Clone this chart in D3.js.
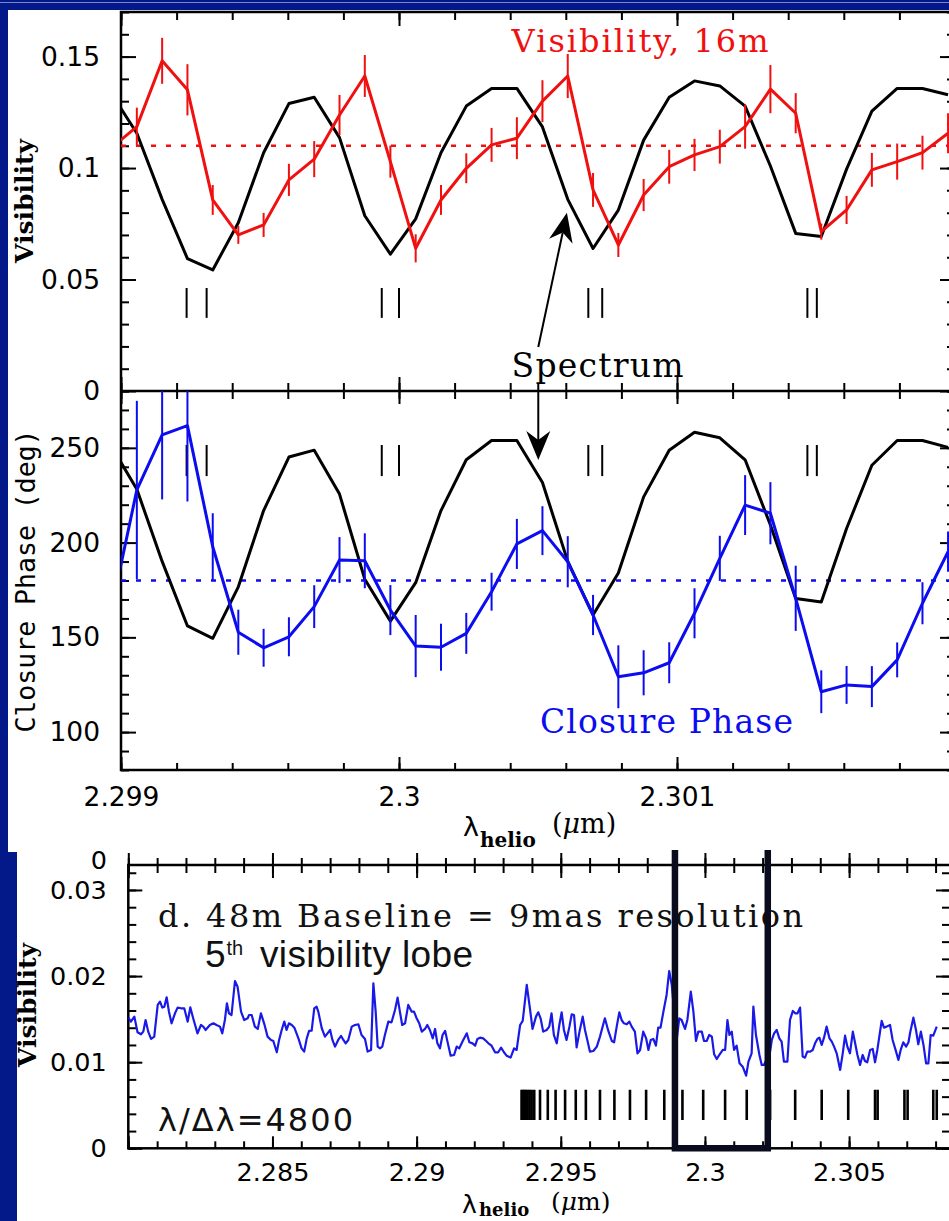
<!DOCTYPE html>
<html>
<head>
<meta charset="utf-8">
<script src="https://cdn.jsdelivr.net/npm/d3@7"></script>
<style>
  body { margin: 0; background: #031889; }
  svg { display: block; }
</style>
</head>
<body>
<script>
// ---- data: 16m baseline, spectral channels (um) ----
const chanLambda = [2.298965, 2.299057, 2.299148, 2.299239, 2.299330, 2.299422, 2.299513, 2.299604, 2.299695,
  2.299786, 2.299877, 2.299969, 2.300060, 2.300151, 2.300242, 2.300333, 2.300424, 2.300516, 2.300607, 2.300698,
  2.300789, 2.300880, 2.300972, 2.301063, 2.301154, 2.301245, 2.301336, 2.301427, 2.301519, 2.301610, 2.301701,
  2.301792, 2.301883, 2.301975];

const visibility16m = [0.1090, 0.1186, 0.1481, 0.1351, 0.0857, 0.0700, 0.0745, 0.0947, 0.1040, 0.1238, 0.1413,
  0.1029, 0.0640, 0.0857, 0.0999, 0.1104, 0.1134, 0.1300, 0.1413, 0.0902, 0.0655, 0.0879, 0.1006, 0.1059, 0.1096,
  0.1186, 0.1354, 0.1246, 0.0715, 0.0812, 0.0992, 0.1029, 0.1069, 0.1156];
const visibilityErr = [0.0080, 0.0085, 0.0103, 0.0115, 0.0067, 0.0040, 0.0054, 0.0072, 0.0081, 0.0090, 0.0094,
  0.0072, 0.0063, 0.0067, 0.0067, 0.0076, 0.0094, 0.0094, 0.0099, 0.0076, 0.0054, 0.0072, 0.0076, 0.0072, 0.0076,
  0.0099, 0.0108, 0.0090, 0.0036, 0.0063, 0.0076, 0.0081, 0.0076, 0.0090];

const closurePhase = [164.2, 227.8, 256.8, 261.7, 197.8, 152.7, 144.5, 150.3, 166.2, 190.8, 190.4, 164.4, 145.4,
  144.8, 152.1, 174.1, 199.3, 206.3, 189.9, 161.8, 129.2, 131.3, 136.6, 162.7, 191.7, 219.8, 215.5, 170.6, 121.3,
  124.9, 124.0, 138.1, 168.0, 195.2];
const closurePhaseErr = [15, 47, 34, 40, 17.7, 11.9, 10, 10.3, 11.3, 12.1, 14.5, 13.2, 16.4, 12.4, 10.8, 10, 13.2,
  12.9, 13.5, 10.6, 16.6, 11.9, 10.8, 13.2, 11.9, 15.8, 16.4, 17.2, 11.3, 10, 10.8, 9.2, 11.1, 10.6];

// normalised flux of the spectrum (continuum ~ 1)
const spectrumFlux = [0.980, 0.917, 0.812, 0.718, 0.700, 0.775, 0.886, 0.964, 0.974, 0.910, 0.786, 0.725, 0.781,
  0.886, 0.960, 0.988, 0.988, 0.927, 0.812, 0.734, 0.795, 0.906, 0.974, 1.000, 0.992, 0.960, 0.865, 0.758, 0.753,
  0.860, 0.952, 0.988, 0.988, 0.978];

const visMean = 0.11;
const phaseMean = 180;
const lineMarksTop = [2.299236, 2.299308, 2.299938, 2.300000, 2.300681, 2.300731, 2.301469, 2.301503];

// ---- data: 48m baseline, 5th lobe ----
const lobe5Spectrum = [
  [2.28000, .01517], [2.28009, .01471], [2.28021, .01529], [2.28032, .01347], [2.28044, .01324], [2.28052, .01355],
  [2.28060, .01490], [2.28069, .01355], [2.28079, .01270], [2.28090, .01297], [2.28102, .01665], [2.28110, .01703],
  [2.28118, .01634], [2.28125, .01645], [2.28133, .01754], [2.28141, .01587], [2.28150, .01452], [2.28162, .01568],
  [2.28171, .01634], [2.28183, .01626], [2.28194, .01626], [2.28206, .01471], [2.28215, .01637], [2.28225, .01510],
  [2.28240, .01335], [2.28252, .01432], [2.28260, .01413], [2.28268, .01374], [2.28283, .01432], [2.28295, .01452],
  [2.28306, .01432], [2.28318, .01413], [2.28326, .01335], [2.28335, .01490], [2.28342, .01684], [2.28349, .01568],
  [2.28358, .01548], [2.28370, .01943], [2.28379, .01877], [2.28391, .01587], [2.28402, .01490], [2.28414, .01510],
  [2.28419, .01548], [2.28428, .01548], [2.28439, .01413], [2.28449, .01386], [2.28460, .01568], [2.28472, .01440],
  [2.28483, .01297], [2.28495, .01258], [2.28503, .01246], [2.28515, .01115], [2.28523, .01258], [2.28532, .01374],
  [2.28541, .01471], [2.28549, .01374], [2.28557, .01452], [2.28567, .01432], [2.28576, .01401], [2.28590, .01277],
  [2.28601, .01161], [2.28610, .01123], [2.28619, .01277], [2.28627, .01363], [2.28636, .01366], [2.28645, .01626],
  [2.28653, .01645], [2.28659, .01587], [2.28671, .01394], [2.28682, .01297], [2.28691, .01335], [2.28700, .01374],
  [2.28708, .01258], [2.28717, .01181], [2.28728, .01258], [2.28738, .01305], [2.28746, .01258], [2.28754, .01219],
  [2.28763, .01258], [2.28775, .01413], [2.28786, .01432], [2.28798, .01440], [2.28809, .01316], [2.28821, .01270],
  [2.28830, .01123], [2.28842, .01142], [2.28850, .01916], [2.28858, .01587], [2.28865, .01181], [2.28873, .01161],
  [2.28881, .01181], [2.28890, .01316], [2.28902, .01471], [2.28913, .01463], [2.28925, .01606], [2.28934, .01750],
  [2.28942, .01587], [2.28950, .01432], [2.28960, .01452], [2.28971, .01665], [2.28983, .01587], [2.28991, .01587],
  [2.29000, .01510], [2.29009, .01452], [2.29018, .01355], [2.29029, .01386], [2.29037, .01432], [2.29046, .01374],
  [2.29056, .01277], [2.29064, .01386], [2.29072, .01219], [2.29081, .01161], [2.29090, .01316], [2.29099, .01363],
  [2.29107, .01239], [2.29118, .01076], [2.29130, .01084], [2.29139, .01181], [2.29148, .01161], [2.29160, .01246],
  [2.29174, .01335], [2.29183, .01231], [2.29194, .01219], [2.29203, .01192], [2.29211, .01270], [2.29220, .01285],
  [2.29231, .01277], [2.29241, .01246], [2.29249, .01219], [2.29260, .01192], [2.29272, .01115], [2.29283, .01115],
  [2.29293, .01169], [2.29303, .01115], [2.29312, .01076], [2.29326, .01053], [2.29338, .01161], [2.29347, .01142],
  [2.29359, .01432], [2.29368, .01479], [2.29382, .01897], [2.29393, .01626], [2.29402, .01386], [2.29414, .01529],
  [2.29422, .01579], [2.29430, .01510], [2.29439, .01355], [2.29451, .01374], [2.29460, .01413], [2.29468, .01568],
  [2.29476, .01316], [2.29486, .01219], [2.29495, .01432], [2.29503, .01579], [2.29511, .01374], [2.29520, .01258],
  [2.29530, .01413], [2.29538, .01556], [2.29546, .01548], [2.29555, .01173], [2.29565, .01355], [2.29576, .01529],
  [2.29584, .01374], [2.29592, .01258], [2.29601, .01123], [2.29613, .01130], [2.29625, .01181], [2.29636, .01297],
  [2.29653, .01510], [2.29665, .01363], [2.29677, .01246], [2.29685, .01231], [2.29694, .01413], [2.29703, .01579],
  [2.29711, .01490], [2.29719, .01452], [2.29729, .01440], [2.29738, .01471], [2.29746, .01413], [2.29757, .01355],
  [2.29766, .01103], [2.29775, .01142], [2.29786, .01355], [2.29796, .01277], [2.29804, .01142], [2.29812, .01258],
  [2.29821, .01270], [2.29830, .01192], [2.29838, .01401], [2.29846, .01401], [2.29856, .01587], [2.29867, .01781],
  [2.29876, .02059], [2.29885, .01897], [2.29902, .01258], [2.29911, .01510], [2.29919, .01490], [2.29931, .01386],
  [2.29939, .01490], [2.29951, .01819], [2.29960, .01587], [2.29969, .01246], [2.29977, .01355], [2.29989, .01355],
  [2.29997, .01246], [2.30006, .01246], [2.30015, .01316], [2.30024, .01297], [2.30032, .01092], [2.30041, .01037],
  [2.30050, .01084], [2.30062, .01142], [2.30070, .01142], [2.30078, .01490], [2.30085, .01316], [2.30093, .01355],
  [2.30101, .01142], [2.30110, .01192], [2.30120, .00987], [2.30131, .00948], [2.30143, .00844], [2.30151, .01006],
  [2.30162, .01103], [2.30168, .01645], [2.30177, .01316], [2.30189, .01084], [2.30197, .00968], [2.30205, .00968],
  [2.30226, .01123], [2.30232, .01258], [2.30240, .01335], [2.30249, .01374], [2.30258, .01277], [2.30266, .01239],
  [2.30274, .01006], [2.30286, .01006], [2.30295, .01490], [2.30305, .01595], [2.30313, .01568], [2.30321, .01568],
  [2.30330, .01634], [2.30339, .01065], [2.30347, .01053], [2.30355, .01123], [2.30365, .01123], [2.30374, .01142],
  [2.30382, .01219], [2.30390, .01270], [2.30397, .01285], [2.30405, .01200], [2.30413, .01285], [2.30422, .01413],
  [2.30432, .01277], [2.30440, .01239], [2.30448, .01181], [2.30457, .01103], [2.30469, .00910], [2.30478, .01103],
  [2.30486, .01308], [2.30494, .01181], [2.30503, .01103], [2.30513, .01355], [2.30521, .01219], [2.30529, .01084],
  [2.30538, .00968], [2.30547, .01084], [2.30555, .01014], [2.30563, .00999], [2.30573, .01142], [2.30582, .01154],
  [2.30590, .00999], [2.30598, .01142], [2.30607, .01347], [2.30613, .01479], [2.30621, .01401], [2.30630, .01413],
  [2.30642, .01432], [2.30651, .01258], [2.30663, .01123], [2.30671, .01026], [2.30679, .01142], [2.30688, .01231],
  [2.30698, .01181], [2.30706, .01231], [2.30712, .01347], [2.30723, .01517], [2.30732, .01374], [2.30740, .01208],
  [2.30749, .01355], [2.30758, .01200], [2.30767, .00987], [2.30775, .00987], [2.30783, .01316], [2.30792, .01308],
  [2.30804, .01413]
];

const lineMarksBottom = [2.29364, 2.29369, 2.29374, 2.29379, 2.29385, 2.29392, 2.29399, 2.29408, 2.29428, 2.29455,
  2.29482, 2.29515, 2.29552, 2.29587, 2.29636, 2.29686, 2.29740, 2.29796, 2.29859, 2.29922, 2.29994, 2.30070,
  2.30145, 2.30226, 2.30313, 2.30405, 2.30497, 2.30590, 2.30599, 2.30692, 2.30703, 2.30792, 2.30804];
const zoomWindow = [2.29896, 2.30218];

// ---- tick labels ----
const visTicks = [0, 0.05, 0.1, 0.15], visTickLabels = ['0', '0.05', '0.1', '0.15'];
const phaseTicks = [100, 150, 200, 250], phaseTickLabels = ['100', '150', '200', '250'];
const topXTicks = [2.299, 2.300, 2.301, 2.302], topXTickLabels = ['2.299', '2.3', '2.301', ''];
const botYTicks = [0, 0.01, 0.02, 0.03], botYTickLabels = ['0', '0.01', '0.02', '0.03'];
const botXTicks = [2.28, 2.285, 2.29, 2.295, 2.3, 2.305], botXTickLabels = ['', '2.285', '2.29', '2.295', '2.3', '2.305'];

const RED = '#f01010', BLUE = '#0c0cf0', NAVY = '#031889';

const svg = d3.select('body').append('svg').attr('width', 949).attr('height', 1221);

// backgrounds (two pasted figures on a navy slide)
svg.append('rect').attr('width', 949).attr('height', 1221).attr('fill', NAVY);
svg.append('rect').attr('x', 0).attr('y', 2).attr('width', 949).attr('height', 1).attr('fill', '#7d86c4');
svg.append('rect').attr('x', 8).attr('y', 10).attr('width', 941).attr('height', 842).attr('fill', '#fff');
svg.append('rect').attr('x', 17).attr('y', 852).attr('width', 932).attr('height', 369).attr('fill', '#fff');

// scales
const xTop = d3.scaleLinear().domain([2.299, 2.302]).range([121, 955]);
const yVis = d3.scaleLinear().domain([0, 0.17]).range([391, 12]);
const yPh = d3.scaleLinear().domain([80, 280]).range([770, 391]);
const specToVis = d3.scaleLinear().domain([0.7, 1.0]).range([0.0543, 0.1391]);
const specToPh = d3.scaleLinear().domain([0.7, 1.0]).range([149.5, 258.2]);
const xBot = d3.scaleLinear().domain([2.28, 2.3085]).range([128.3, 950]);
const yBot = d3.scaleLinear().domain([0, 0.0329]).range([1148.3, 865]);

function drawAxis(gen, x, y, values, size, pad, labels, fs) {
  const g = svg.append('g').attr('transform', `translate(${x},${y})`)
    .call(gen.tickValues(values).tickSize(size).tickPadding(pad || 3)
      .tickFormat(labels ? (d, i) => labels[i] : () => ''));
  g.select('.domain').remove();
  g.selectAll('line').attr('stroke', '#000').attr('stroke-width', 2);
  g.selectAll('text').attr('fill', '#000');
  g.attr('font-family', 'DejaVu Sans').attr('font-size', fs || 26.5);
  return g;
}

const topXMinor = d3.range(0, 16).map(i => 2.299 + i * 0.0002);
const visMinor = d3.range(0, 18).map(i => i * 0.01);
const phMinor = d3.range(0, 21).map(i => 80 + i * 10);
const botXMinor = d3.range(0, 29).map(i => 2.28 + i * 0.001);
const botYMinor = d3.range(0, 17).map(i => i * 0.002);

// ---- visibility panel axes ----
drawAxis(d3.axisLeft(yVis), 121, 0, visMinor, -8);
drawAxis(d3.axisLeft(yVis), 121, 0, visTicks, -15, 21, visTickLabels);
drawAxis(d3.axisRight(yVis), 955, 0, visMinor, -8);
drawAxis(d3.axisRight(yVis), 955, 0, visTicks, -15);
drawAxis(d3.axisTop(xTop), 0, 12, topXMinor, -8);
drawAxis(d3.axisTop(xTop), 0, 12, topXTicks, -14);
drawAxis(d3.axisBottom(xTop), 0, 391, topXMinor, -8);
drawAxis(d3.axisBottom(xTop), 0, 391, topXTicks, -14);

// ---- phase panel axes ----
drawAxis(d3.axisLeft(yPh), 121, 0, phMinor, -8);
drawAxis(d3.axisLeft(yPh), 121, 0, phaseTicks, -15, 21, phaseTickLabels);
drawAxis(d3.axisRight(yPh), 955, 0, phMinor, -8);
drawAxis(d3.axisRight(yPh), 955, 0, phaseTicks, -15);
drawAxis(d3.axisTop(xTop), 0, 391, topXMinor, -8);
drawAxis(d3.axisTop(xTop), 0, 391, topXTicks, -13);
drawAxis(d3.axisBottom(xTop), 0, 770, topXMinor, -7);
drawAxis(d3.axisBottom(xTop), 0, 770, topXTicks, -13, 17, topXTickLabels);

svg.append('rect').attr('x', 121).attr('y', 12).attr('width', 834).attr('height', 758)
  .attr('fill', 'none').attr('stroke', '#000').attr('stroke-width', 2.5);
svg.append('line').attr('x1', 121).attr('x2', 955).attr('y1', 391).attr('y2', 391)
  .attr('stroke', '#000').attr('stroke-width', 2.5);

const defs = svg.append('defs');
defs.append('clipPath').attr('id', 'clipVis').append('rect')
  .attr('x', 121).attr('y', 12).attr('width', 834).attr('height', 379);
defs.append('clipPath').attr('id', 'clipPh').append('rect')
  .attr('x', 121).attr('y', 391).attr('width', 834).attr('height', 379);
defs.append('clipPath').attr('id', 'clipBot').append('rect')
  .attr('x', 128.3).attr('y', 865).attr('width', 822).attr('height', 283.3);

const idx = d3.range(chanLambda.length);

// ---- visibility panel content ----
const gVis = svg.append('g').attr('clip-path', 'url(#clipVis)');
gVis.append('line').attr('x1', 121).attr('x2', 955).attr('y1', yVis(visMean)).attr('y2', yVis(visMean))
  .attr('stroke', RED).attr('stroke-width', 2.5).attr('stroke-dasharray', '5,10');
gVis.selectAll('.mk').data(lineMarksTop).enter().append('line')
  .attr('x1', d => xTop(d)).attr('x2', d => xTop(d))
  .attr('y1', yVis(0.0462)).attr('y2', yVis(0.0328)).attr('stroke', '#000').attr('stroke-width', 2);
gVis.append('path').datum(idx)
  .attr('d', d3.line().x(i => xTop(chanLambda[i])).y(i => yVis(specToVis(spectrumFlux[i]))))
  .attr('fill', 'none').attr('stroke', '#000').attr('stroke-width', 3).attr('stroke-linejoin', 'round');
gVis.selectAll('.ev').data(idx).enter().append('line')
  .attr('x1', i => xTop(chanLambda[i])).attr('x2', i => xTop(chanLambda[i]))
  .attr('y1', i => yVis(visibility16m[i] - visibilityErr[i]))
  .attr('y2', i => yVis(visibility16m[i] + visibilityErr[i]))
  .attr('stroke', RED).attr('stroke-width', 2);
gVis.append('path').datum(idx)
  .attr('d', d3.line().x(i => xTop(chanLambda[i])).y(i => yVis(visibility16m[i])))
  .attr('fill', 'none').attr('stroke', RED).attr('stroke-width', 3).attr('stroke-linejoin', 'round');

// ---- phase panel content ----
const gPh = svg.append('g').attr('clip-path', 'url(#clipPh)');
gPh.append('line').attr('x1', 121).attr('x2', 955).attr('y1', yPh(phaseMean)).attr('y2', yPh(phaseMean))
  .attr('stroke', BLUE).attr('stroke-width', 2.5).attr('stroke-dasharray', '5,10');
gPh.selectAll('.mk').data(lineMarksTop).enter().append('line')
  .attr('x1', d => xTop(d)).attr('x2', d => xTop(d))
  .attr('y1', yPh(251.5)).attr('y2', yPh(235.1)).attr('stroke', '#000').attr('stroke-width', 2);
gPh.append('path').datum(idx)
  .attr('d', d3.line().x(i => xTop(chanLambda[i])).y(i => yPh(specToPh(spectrumFlux[i]))))
  .attr('fill', 'none').attr('stroke', '#000').attr('stroke-width', 3).attr('stroke-linejoin', 'round');
gPh.selectAll('.ep').data(idx).enter().append('line')
  .attr('x1', i => xTop(chanLambda[i])).attr('x2', i => xTop(chanLambda[i]))
  .attr('y1', i => yPh(closurePhase[i] - closurePhaseErr[i]))
  .attr('y2', i => yPh(closurePhase[i] + closurePhaseErr[i]))
  .attr('stroke', BLUE).attr('stroke-width', 2);
gPh.append('path').datum(idx)
  .attr('d', d3.line().x(i => xTop(chanLambda[i])).y(i => yPh(closurePhase[i])))
  .attr('fill', 'none').attr('stroke', BLUE).attr('stroke-width', 3).attr('stroke-linejoin', 'round');

// ---- annotations, top figure ----
function stretchText(x, y, str, size, len, color, family) {
  return svg.append('text').attr('x', x).attr('y', y).text(str)
    .attr('font-family', family || 'DejaVu Serif').attr('font-size', size)
    .attr('textLength', len).attr('lengthAdjust', 'spacing').attr('fill', color || '#000');
}
stretchText(xTop(2.300405), yVis(0.1521), 'Visibility, 16m', 32, 257, RED);
stretchText(xTop(2.300405), yVis(0.0064), 'Spectrum', 33, 172);
stretchText(xTop(2.300507), yPh(99.5), 'Closure Phase', 33, 253, BLUE);

function arrow(x1, y1, x2, y2) {
  const dx = x2 - x1, dy = y2 - y1, len = Math.hypot(dx, dy);
  const ux = dx / len, uy = dy / len, nx = -uy, ny = ux;
  const L = 29, Wd = 12, N = 20;
  svg.append('line').attr('x1', x1).attr('y1', y1).attr('x2', x2 - ux * N).attr('y2', y2 - uy * N)
    .attr('stroke', '#000').attr('stroke-width', 2);
  const pts = [[x2, y2], [x2 - ux * L + nx * Wd, y2 - uy * L + ny * Wd], [x2 - ux * N, y2 - uy * N],
    [x2 - ux * L - nx * Wd, y2 - uy * L - ny * Wd]];
  svg.append('polygon').attr('points', pts.map(p => p.join(',')).join(' ')).attr('fill', '#000');
}
arrow(xTop(2.300501), yVis(0.0197), xTop(2.300604), yVis(0.0799));
arrow(xTop(2.300501), yVis(0.0036), xTop(2.300501), yPh(243.6));

// axis titles
function yTitle(x, y, str, family, size, weight) {
  svg.append('text').attr('transform', `translate(${x},${y}) rotate(-90)`)
    .attr('text-anchor', 'middle').attr('font-family', family).attr('font-size', size)
    .attr('font-weight', weight || 'normal').attr('fill', '#000').text(str);
}
yTitle(33, 201, 'Visibility', 'DejaVu Serif', 25, 'bold');
yTitle(35, 581, 'Closure Phase (deg)', 'DejaVu Sans Mono', 26.5);
yTitle(36, 1005, 'Visibility', 'DejaVu Serif', 25, 'bold');

function xTitle(x, base, subDrop, size, subSize) {
  svg.append('text').attr('x', x).attr('y', base + 3).attr('font-family', 'DejaVu Sans')
    .attr('font-size', size).text('λ');
  svg.append('text').attr('x', x + 17).attr('y', base + subDrop).attr('font-family', 'DejaVu Serif')
    .attr('font-size', subSize).attr('font-weight', 'bold').text('helio');
  const t = svg.append('text').attr('x', x + 89).attr('y', base).attr('font-family', 'DejaVu Serif')
    .attr('font-size', size);
  t.append('tspan').text('(');
  t.append('tspan').attr('font-style', 'italic').text('μ');
  t.append('tspan').text('m)');
}
xTitle(463, 833, 14, 27, 20);

// ---- bottom figure: 48m baseline ----
drawAxis(d3.axisLeft(yBot), 128.3, 0, botYMinor, -8);
drawAxis(d3.axisLeft(yBot), 128.3, 0, botYTicks, -14, 21.6, botYTickLabels, 25.5);
drawAxis(d3.axisRight(yBot), 950, 0, botYMinor, -8);
drawAxis(d3.axisRight(yBot), 950, 0, botYTicks, -14);
drawAxis(d3.axisTop(xBot), 0, 865, botXMinor, 7);
drawAxis(d3.axisTop(xBot), 0, 865, botXMinor, -8);
drawAxis(d3.axisTop(xBot), 0, 865, botXTicks, 12);
drawAxis(d3.axisTop(xBot), 0, 865, botXTicks, -13);
drawAxis(d3.axisBottom(xBot), 0, 1148.3, botXMinor, -7);
drawAxis(d3.axisBottom(xBot), 0, 1148.3, botXTicks, -12, 15, botXTickLabels, 25.5);
svg.append('rect').attr('x', 128.3).attr('y', 865).attr('width', 822).attr('height', 283.3)
  .attr('fill', 'none').attr('stroke', '#000').attr('stroke-width', 2.5);
svg.append('text').attr('x', 107).attr('y', 869).attr('text-anchor', 'end')
  .attr('font-family', 'DejaVu Sans').attr('font-size', 25.5).text('0');

const gBot = svg.append('g').attr('clip-path', 'url(#clipBot)');
gBot.selectAll('.mk').data(lineMarksBottom).enter().append('line')
  .attr('x1', d => xBot(d)).attr('x2', d => xBot(d))
  .attr('y1', yBot(0.0068)).attr('y2', yBot(0.0033)).attr('stroke', '#000').attr('stroke-width', 2.6);
gBot.append('path').datum(lobe5Spectrum)
  .attr('d', d3.line().x(d => xBot(d[0])).y(d => yBot(d[1])))
  .attr('fill', 'none').attr('stroke', '#1a1ae8').attr('stroke-width', 2.2).attr('stroke-linejoin', 'round');

stretchText(xBot(2.28103), yBot(0.0257), 'd. 48m Baseline = 9mas resolution', 32, 645, '#111');
svg.append('text').attr('x', 205).attr('y', 966.7).attr('font-family', 'Liberation Sans')
  .attr('font-size', 37).attr('fill', '#111').text('5');
svg.append('text').attr('x', 226.5).attr('y', 955).attr('font-family', 'Liberation Sans')
  .attr('font-size', 20).attr('fill', '#111').text('th');
stretchText(260, 966.7, 'visibility lobe', 37, 213, '#111', 'Liberation Sans');
stretchText(xBot(2.28103), yBot(0.00204), 'λ/Δλ=4800', 32, 195, '#111', 'DejaVu Sans');

// zoom window drawn over the text
svg.append('path')
  .attr('d', `M${xBot(zoomWindow[0])},850 V${yBot(0)} H${xBot(zoomWindow[1])} V850`)
  .attr('fill', 'none').attr('stroke', '#0b0b1e').attr('stroke-width', 6.5);

xTitle(462, 1210, 6, 25, 18);
</script>
</body>
</html>
